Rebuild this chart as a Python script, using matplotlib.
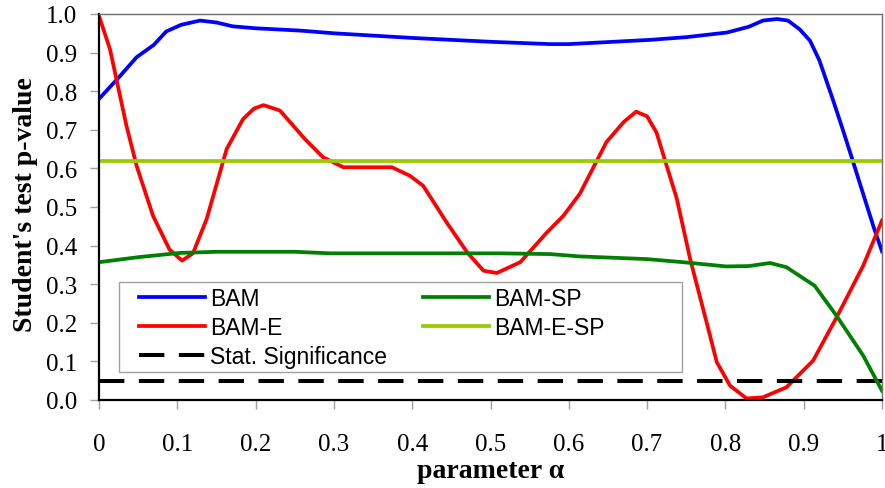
import matplotlib
matplotlib.use("Agg")
import matplotlib.pyplot as plt
from matplotlib.patches import Rectangle
import numpy as np

# values
bam_x = [0, 0.025, 0.048, 0.07, 0.086, 0.105, 0.129, 0.15, 0.171, 0.2, 0.257,
         0.3, 0.4, 0.5, 0.576, 0.6, 0.704, 0.75, 0.802, 0.83, 0.848, 0.866,
         0.88, 0.895, 0.908, 0.92, 0.937, 0.95, 0.962, 0.975, 0.989, 1.0]
bam_y = [0.78, 0.835, 0.888, 0.92, 0.955, 0.972, 0.983, 0.978, 0.968, 0.963,
         0.957, 0.95, 0.938, 0.928, 0.922, 0.922, 0.933, 0.94, 0.952, 0.967,
         0.983, 0.987, 0.983, 0.96, 0.931, 0.88, 0.78, 0.70, 0.624, 0.54,
         0.45, 0.385]

bame_x = [0, 0.014, 0.035, 0.048, 0.069, 0.09, 0.106, 0.12, 0.1375, 0.163,
          0.184, 0.198, 0.21, 0.231, 0.263, 0.286, 0.312, 0.374, 0.397, 0.414,
          0.444, 0.47, 0.491, 0.508, 0.538, 0.572, 0.593, 0.614, 0.648, 0.67,
          0.686, 0.7, 0.712, 0.723, 0.738, 0.755, 0.776, 0.789, 0.806, 0.827,
          0.848, 0.878, 0.912, 0.942, 0.976, 1.0]
bame_y = [0.995, 0.909, 0.711, 0.607, 0.477, 0.39, 0.361, 0.38, 0.469, 0.65,
          0.728, 0.755, 0.764, 0.750, 0.676, 0.629, 0.603, 0.603, 0.581, 0.555,
          0.46, 0.383, 0.335, 0.329, 0.357, 0.434, 0.477, 0.534, 0.668, 0.72,
          0.747, 0.735, 0.693, 0.62, 0.521, 0.365, 0.201, 0.098, 0.037, 0.004,
          0.007, 0.033, 0.102, 0.214, 0.348, 0.465]

bamsp_x = [0, 0.05, 0.103, 0.15, 0.25, 0.295, 0.51, 0.576, 0.614, 0.7, 0.746,
           0.801, 0.83, 0.857, 0.878, 0.914, 0.942, 0.976, 1.0]
bamsp_y = [0.357, 0.37, 0.381, 0.384, 0.384, 0.380, 0.380, 0.378, 0.372, 0.365,
           0.357, 0.346, 0.347, 0.355, 0.344, 0.296, 0.218, 0.115, 0.024]

bamesp_x = [0, 1]
bamesp_y = [0.62, 0.62]

sig_x = [0, 1]
sig_y = [0.05, 0.05]

xticks = [0, 0.1, 0.2, 0.3, 0.4, 0.5, 0.6, 0.7, 0.8, 0.9, 1.0]
xtick_labels = ["0", "0.1", "0.2", "0.3", "0.4", "0.5", "0.6", "0.7", "0.8", "0.9", "1"]
yticks = np.round(np.arange(0, 1.01, 0.1), 1)

serif = "Liberation Serif"
sans = "Liberation Sans"

fig = plt.figure(figsize=(8.85, 4.89), dpi=100)
ax = fig.add_axes([99 / 885, 88 / 489, 783 / 885, 386 / 489])

lw = 2.7
l1, = ax.plot(bam_x, bam_y, color="#0000FF", lw=lw, label="BAM")
l2, = ax.plot(bame_x, bame_y, color="#FF0000", lw=lw, label="BAM-E")
l5, = ax.plot(sig_x, sig_y, color="black", lw=2.9, dashes=(6.3, 3.6),
              label="Stat. Significance")
l3, = ax.plot(bamsp_x, bamsp_y, color="#008000", lw=lw, label="BAM-SP")
l4, = ax.plot(bamesp_x, bamesp_y, color="#99CC00", lw=lw, label="BAM-E-SP")

ax.set_xlim(0, 1)
ax.set_ylim(0, 1)
ax.set_xticks(xticks)
ax.set_xticklabels(xtick_labels)
ax.set_yticks(yticks)
ax.set_yticklabels(["%.1f" % v for v in yticks])

ax.tick_params(axis="both", direction="out", length=6.5, width=1,
               color="#a0a0a0", labelsize=18)
ax.tick_params(axis="y", pad=9)
ax.tick_params(axis="x", pad=17)
for lab in ax.get_xticklabels() + ax.get_yticklabels():
    lab.set_family(serif)

for s in ["left", "bottom"]:
    ax.spines[s].set_color("black")
    ax.spines[s].set_linewidth(1.6)
for s in ["top", "right"]:
    ax.spines[s].set_color("#707070")
    ax.spines[s].set_linewidth(1.0)

ax.set_ylabel("Student's test p-value", family=serif, fontweight="bold",
              fontsize=20)
ax.yaxis.set_label_coords(-61 / 783, 0.51)
ax.set_xlabel("parameter \u03b1", family=serif, fontweight="bold", fontsize=20)
ax.xaxis.set_label_coords(0.5, -58 / 386)

# legend frame (box is wider than its content in the original)
frame = Rectangle((20 / 783, 28 / 386), 563 / 783, 90 / 386,
                  transform=ax.transAxes, facecolor="white",
                  edgecolor="#a0a0a0", lw=1.0, zorder=4)
ax.add_patch(frame)
leg = ax.legend(handles=[l1, l2, l5, l3, l4], ncol=2, loc="upper left",
                bbox_to_anchor=(40 / 783, 113 / 386), borderaxespad=0,
                borderpad=0, frameon=False, prop={"family": sans, "size": 16.5},
                handlelength=2.9, handletextpad=0.22, labelspacing=0.27,
                columnspacing=1.55)
leg.set_zorder(5)

plt.savefig("out.png", dpi=100)
